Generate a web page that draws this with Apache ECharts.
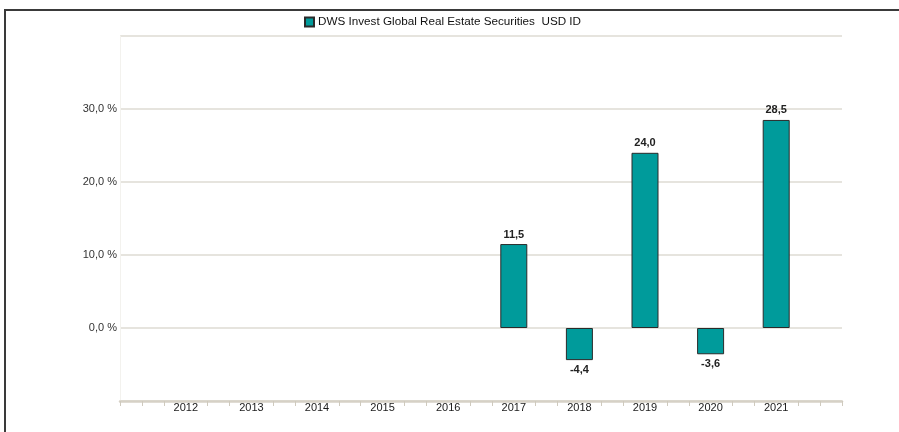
<!DOCTYPE html>
<html>
<head>
<meta charset="utf-8">
<script src="https://cdn.jsdelivr.net/npm/echarts@6/dist/echarts.min.js"></script>
<style>
html,body{margin:0;padding:0;background:#fff;}
#chart{width:899px;height:432px;}
</style>
</head>
<body>
<div id="chart"></div>
<script>
const seriesName = 'DWS Invest Global Real Estate Securities  USD ID';
const years = ['2012','2013','2014','2015','2016','2017','2018','2019','2020','2021'];
const returns = [null, null, null, null, null, 11.5, -4.4, 24.0, -3.6, 28.5];
const yTicks = [-10, 0, 10, 20, 30, 40];

const fmt = v => v.toFixed(1).replace('.', ',');

// minor tick positions along the category axis (3 per category, skipping the label centres)
const tickSlots = years.length * 3 + 3;
const tickVals = [];
for (let i = 0; i <= tickSlots; i++) {
  if (i % 3 !== 0 || i === 0 || i === tickSlots) tickVals.push(i);
}

const chart = echarts.init(document.getElementById('chart'), null, {renderer: 'canvas'});
const font = 'Liberation Sans, Arial, sans-serif';

chart.setOption({
  animation: false,
  backgroundColor: '#fff',
  textStyle: {fontFamily: font},
  graphic: [{
    type: 'rect', z: 100, silent: true,
    shape: {x: 5, y: 10, width: 1000, height: 1000},
    style: {fill: 'none', stroke: '#3a3a3a', lineWidth: 2}
  }],
  legend: {
    left: 299, top: 11,
    itemWidth: 9, itemHeight: 9, itemGap: 8,
    icon: 'rect',
    textStyle: {fontSize: 11.7, color: '#111', fontFamily: font, padding: [0, 0, 0, -1]},
    data: [seriesName]
  },
  grid: [
    {left: 153, right: 90, top: 36, bottom: 31},
    {left: 120, right: 57, top: 36, bottom: 31}
  ],
  xAxis: [
    {
      type: 'category', gridIndex: 0, data: years,
      axisLine: {show: false}, axisTick: {show: false},
      axisLabel: {fontSize: 11, color: '#1a1a1a', margin: 1, fontFamily: font},
      splitLine: {show: false}
    },
    {
      type: 'value', gridIndex: 1, min: 0, max: tickSlots, interval: 1,
      axisLine: {show: true, onZero: false, lineStyle: {color: '#d6d1c6', width: 2.5}},
      axisTick: {show: true, length: 5, lineStyle: {color: '#cfcabe', width: 1}, customValues: tickVals},
      axisLabel: {show: false},
      splitLine: {show: false}
    }
  ],
  yAxis: [
    {
      type: 'value', gridIndex: 0, min: yTicks[0], max: yTicks[yTicks.length - 1], interval: 10,
      show: false, splitLine: {show: false}
    },
    {
      type: 'value', gridIndex: 1, min: yTicks[0], max: yTicks[yTicks.length - 1], interval: 10,
      axisLine: {show: true, onZero: false, lineStyle: {color: '#f3f2ee', width: 1}},
      axisTick: {show: false},
      axisLabel: {
        fontSize: 11, color: '#333', margin: 3, fontFamily: font,
        formatter: v => (v === yTicks[0] || v === yTicks[yTicks.length - 1]) ? '' : fmt(v) + ' %'
      },
      splitLine: {show: true, lineStyle: {color: '#dedbd3', width: 1.5}}
    }
  ],
  series: [{
    name: seriesName,
    type: 'bar',
    xAxisIndex: 0, yAxisIndex: 0,
    barWidth: 27,
    itemStyle: {color: '#009b9b', borderColor: '#2a2a2a', borderWidth: 1},
    label: {
      show: true, fontSize: 11, fontWeight: 'bold', color: '#222', fontFamily: font, distance: 4,
      formatter: p => p.value == null ? '' : fmt(p.value)
    },
    data: returns.map(v => v == null ? null : {
      value: v,
      label: {position: v >= 0 ? 'top' : 'bottom'}
    })
  }]
});
</script>
</body>
</html>
